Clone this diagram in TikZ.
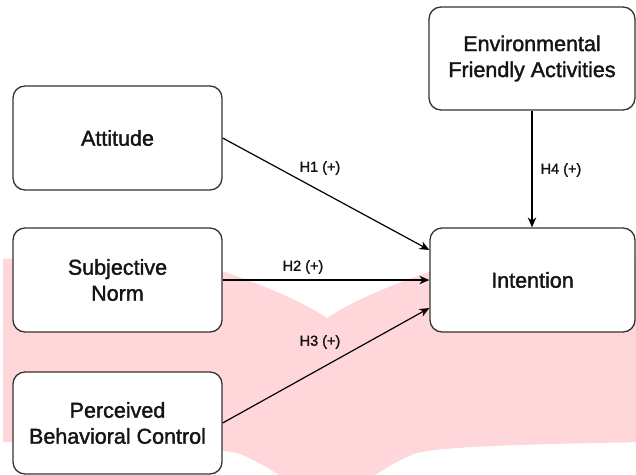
\documentclass[tikz,border=0pt]{standalone}
\usepackage{fontspec}
\setmainfont{Liberation Sans}
\newfontfamily\medfont{Liberation Sans}[FakeBold=1.6]
\usetikzlibrary{arrows.meta}
\definecolor{pinkbg}{RGB}{255,214,218}
\definecolor{boxline}{RGB}{51,51,51}
\definecolor{txt}{RGB}{20,20,20}
\begin{document}
\begin{tikzpicture}[x=1pt,y=-1pt,
  box/.style={draw=boxline, line width=1.3pt, rounded corners=12pt, fill=white, align=center, text=txt, font=\medfont\fontsize{21.5}{26}\selectfont, inner sep=0pt},
  lbl/.style={text=txt, font=\medfont\fontsize{14.5}{17}\selectfont, inner sep=0pt},
  arr/.style={draw=black, line width=1.2pt, -{Stealth[length=10pt,width=8.5pt]}}]
\useasboundingbox (0,0) rectangle (636,474);
\begin{scope}
\clip (0,0) rectangle (636,474);
\fill[pinkbg] (3,259) .. controls (120,252) and (190,258) .. (222,271)
  .. controls (260,284) and (300,300) .. (327,318)
  .. controls (354,300) and (394,284) .. (432,271)
  .. controls (464,258) and (534,252) .. (640,259)
  -- (640,442)
  .. controls (560,444) and (450,445) .. (417,453)
  .. controls (395,460) and (360,485) .. (327,505)
  .. controls (294,485) and (259,460) .. (237,453)
  .. controls (200,445) and (94,444) .. (3,442) -- cycle;
\end{scope}
\node[box, minimum width=209pt, minimum height=104pt] (att) at (117.5,138) {Attitude};
\node[box, minimum width=209pt, minimum height=104pt] (sn) at (117.5,280) {Subjective\\Norm};
\node[box, minimum width=209pt, minimum height=102pt] (pbc) at (117.5,423) {Perceived\\Behavioral Control};
\node[box, minimum width=205pt, minimum height=104pt] (int) at (532.5,280) {Intention};
\node[box, minimum width=206pt, minimum height=103pt] (efa) at (532,58.5) {Environmental\\Friendly Activities};
\draw[arr] (att.east) -- ([yshift=30pt]int.west);
\draw[arr] (sn.east) -- (int.west);
\draw[arr] (pbc.east) -- ([yshift=-28pt]int.west);
\draw[arr] (efa.south) -- (efa.south |- int.north);
\node[lbl] (l1) at (320,168) {H1 (+)};
\node[lbl] (l2) at (303,267) {H2 (+)};
\node[lbl] (l3) at (320,342) {H3 (+)};
\node[lbl] (l4) at (561,170) {H4 (+)};
\end{tikzpicture}
\end{document}
